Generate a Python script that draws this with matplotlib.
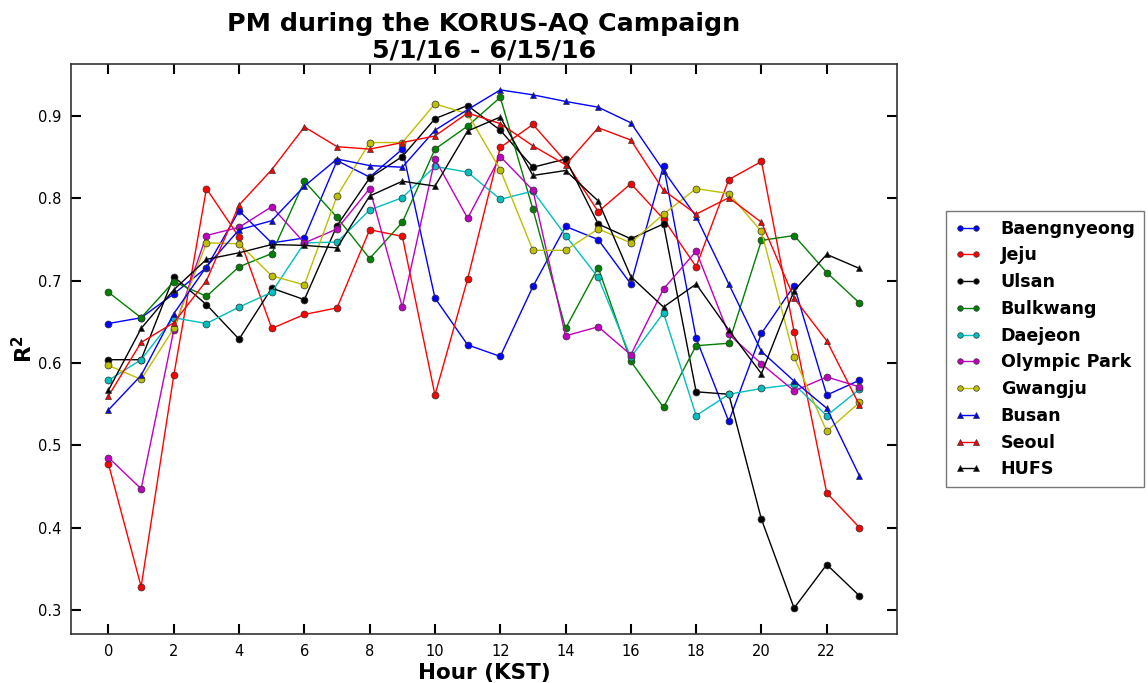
import matplotlib
matplotlib.use("Agg")
import matplotlib.pyplot as plt

hours = list(range(24))

sites = ["Baengnyeong", "Jeju", "Ulsan", "Bulkwang", "Daejeon",
         "Olympic Park", "Gwangju", "Busan", "Seoul", "HUFS"]

baengnyeong = [0.648, 0.655, 0.684, 0.716, 0.785, 0.746, 0.752, 0.846, 0.826, 0.860, 0.679, 0.622,
               0.608, 0.693, 0.766, 0.750, 0.696, 0.840, 0.630, 0.529, 0.636, 0.694, 0.561, 0.579]
jeju = [0.477, 0.328, 0.585, 0.812, 0.753, 0.642, 0.659, 0.667, 0.762, 0.754, 0.561, 0.702,
        0.862, 0.890, 0.845, 0.784, 0.818, 0.775, 0.717, 0.823, 0.845, 0.638, 0.442, 0.400]
ulsan = [0.604, 0.604, 0.705, 0.671, 0.629, 0.691, 0.677, 0.767, 0.825, 0.851, 0.897, 0.913,
         0.883, 0.838, 0.848, 0.769, 0.751, 0.769, 0.565, 0.562, 0.410, 0.302, 0.355, 0.317]
bulkwang = [0.686, 0.655, 0.699, 0.681, 0.717, 0.733, 0.821, 0.777, 0.727, 0.771, 0.860, 0.888,
            0.923, 0.787, 0.642, 0.716, 0.602, 0.546, 0.621, 0.624, 0.749, 0.755, 0.710, 0.673]
daejeon = [0.579, 0.604, 0.655, 0.648, 0.668, 0.686, 0.746, 0.747, 0.786, 0.801, 0.839, 0.832,
           0.799, 0.809, 0.755, 0.704, 0.607, 0.661, 0.536, 0.562, 0.569, 0.574, 0.536, 0.568]
olympic_park = [0.485, 0.447, 0.640, 0.755, 0.765, 0.790, 0.746, 0.763, 0.812, 0.668, 0.848, 0.776,
                0.851, 0.810, 0.633, 0.644, 0.610, 0.690, 0.736, 0.635, 0.599, 0.566, 0.583, 0.571]
gwangju = [0.597, 0.580, 0.642, 0.746, 0.745, 0.706, 0.695, 0.803, 0.868, 0.868, 0.915, 0.903,
           0.835, 0.737, 0.737, 0.763, 0.746, 0.781, 0.812, 0.806, 0.760, 0.607, 0.517, 0.552]
busan = [0.543, 0.585, 0.660, 0.717, 0.762, 0.773, 0.815, 0.848, 0.840, 0.838, 0.883, 0.908,
         0.932, 0.926, 0.918, 0.911, 0.892, 0.834, 0.778, 0.696, 0.614, 0.578, 0.545, 0.463]
seoul = [0.560, 0.625, 0.649, 0.700, 0.792, 0.835, 0.887, 0.863, 0.860, 0.868, 0.876, 0.904,
         0.891, 0.864, 0.841, 0.886, 0.871, 0.810, 0.781, 0.801, 0.771, 0.679, 0.627, 0.549]
hufs = [0.567, 0.642, 0.689, 0.726, 0.734, 0.744, 0.743, 0.740, 0.803, 0.821, 0.815, 0.882,
        0.899, 0.828, 0.834, 0.797, 0.705, 0.668, 0.696, 0.640, 0.587, 0.688, 0.732, 0.715]

series = [baengnyeong, jeju, ulsan, bulkwang, daejeon, olympic_park, gwangju, busan, seoul, hufs]
colors = ['b', 'r', 'k', 'g', 'c', 'm', 'y', 'b', 'r', 'k']
markers = ['o'] * 7 + ['^'] * 3

fig = plt.figure(figsize=(11.48, 6.83), dpi=100)
ax = fig.add_axes([0.0618, 0.0717, 0.7195, 0.8346])

for name, vals, c, m in zip(sites, series, colors, markers):
    ax.plot(hours, vals, '-', color=c, marker=m, markersize=5, lw=1,
            markeredgecolor='#333333', markeredgewidth=0.5, label=name)

ax.margins(0.05)
ax.set_xticks(range(0, 24, 2))
ax.tick_params(direction='in', top=True, right=True, length=7, width=1.5,
               labelsize=10.5, pad=7)
for sp in ax.spines.values():
    sp.set_linewidth(1.2)
    sp.set_color('#333333')

ax.set_title("PM during the KORUS-AQ Campaign\n5/1/16 - 6/15/16",
             fontsize=18.3, fontweight='bold', linespacing=1.12, pad=5)
ax.set_xlabel("Hour (KST)", fontsize=15.5, fontweight='bold', labelpad=3)
ax.set_ylabel(r"$\mathbf{R^2}$", fontsize=15.5, labelpad=1)

leg = ax.legend(loc='center left', bbox_to_anchor=(1.06, 0.5), numpoints=2,
                prop={'size': 12.6, 'weight': 'bold'}, fancybox=False,
                markerscale=0.8, handlelength=1.5, handletextpad=1.1,
                borderpad=0.5, borderaxespad=0.0)
leg.get_frame().set_edgecolor('#555555')
leg.get_frame().set_linewidth(1.0)

fig.savefig("out.png", dpi=100)
